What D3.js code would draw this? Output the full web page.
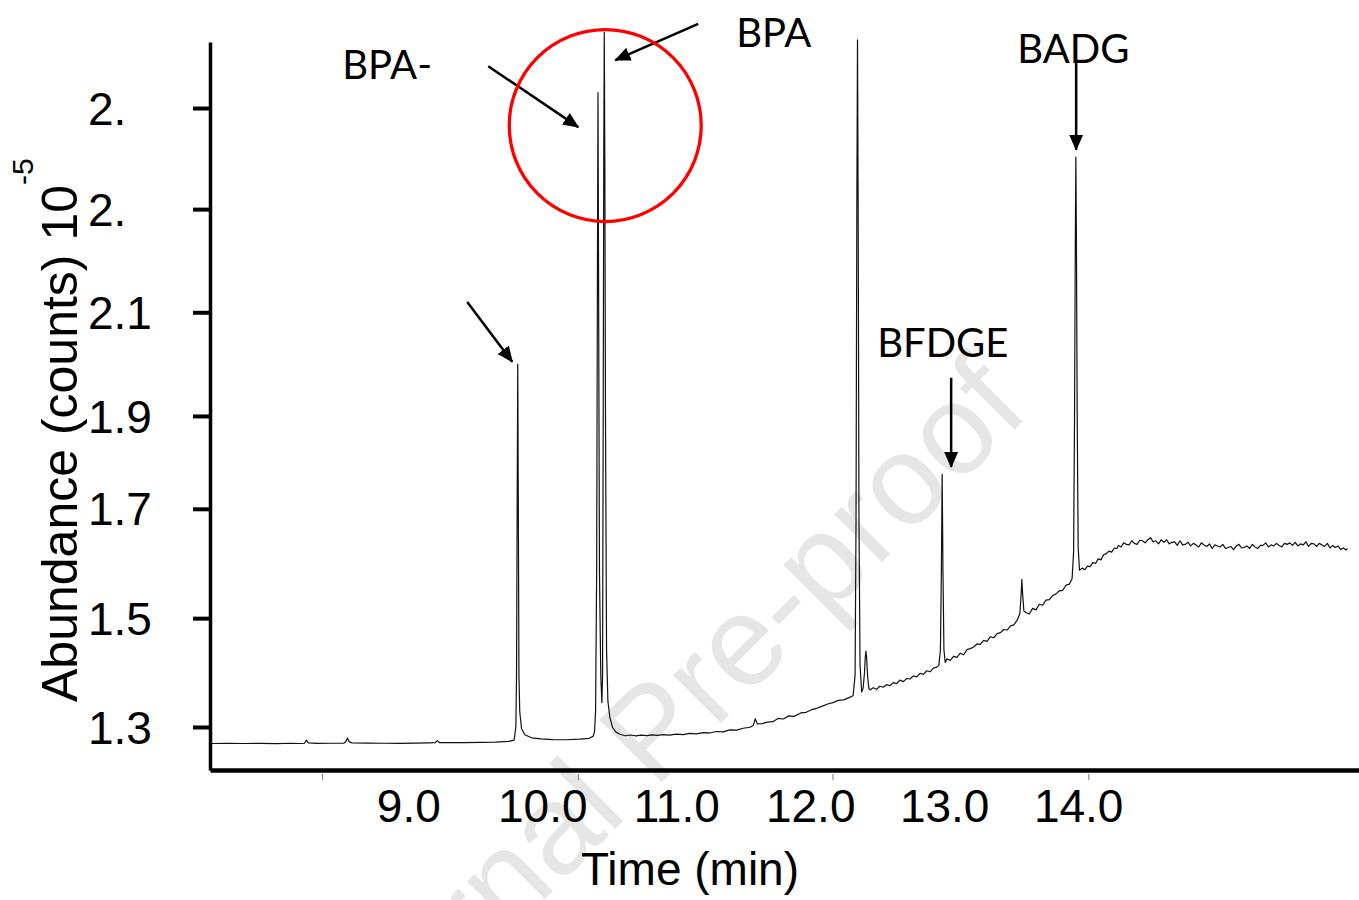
<!DOCTYPE html>
<html>
<head>
<meta charset="utf-8">
<script src="https://cdn.jsdelivr.net/npm/d3@7/dist/d3.min.js"></script>
<style>
  body { margin: 0; background: #fff; }
  svg { display: block; }
</style>
</head>
<body>
<script>
// chromatogram trace: [time (min), abundance]
var trace = [
  [7.53,1.268],[7.65,1.2685],[7.78,1.268],[7.9,1.2682],[8.02,1.2678],[8.12,1.2685],[8.2,1.268],[8.225,1.2685],
  [8.24,1.2745],[8.255,1.269],[8.32,1.2682],[8.42,1.2685],[8.52,1.2688],[8.535,1.272],[8.546,1.2785],[8.56,1.271],
  [8.58,1.2692],[8.7,1.2688],[8.82,1.2685],[8.94,1.2682],[9.05,1.2688],[9.15,1.2692],[9.2,1.2695],[9.216,1.2735],
  [9.232,1.2698],[9.3,1.2695],[9.42,1.2698],[9.54,1.2702],[9.65,1.2705],[9.75,1.272],[9.79,1.2745],
  [9.803,1.30],[9.808,1.40],[9.813,1.75],[9.817,2.003],[9.821,1.75],[9.826,1.40],[9.832,1.33],[9.845,1.297],
  [9.87,1.285],[9.92,1.279],[9.99,1.277],[10.08,1.2755],[10.18,1.2752],[10.28,1.2765],[10.35,1.278],[10.38,1.282],
  [10.39,1.29],[10.398,1.33],[10.406,1.6],[10.412,2.2],[10.416,2.53],[10.42,2.2],[10.427,1.6],[10.437,1.40],
  [10.445,1.347],[10.45,1.40],[10.455,1.9],[10.459,2.4],[10.463,2.647],[10.467,2.4],[10.472,1.9],[10.48,1.45],
  [10.49,1.35],[10.505,1.318],[10.525,1.299],[10.55,1.29],[10.58,1.286],[10.62,1.283],
  [10.66,1.2845],[10.7,1.2828],[10.74,1.2842],[10.78,1.2832],[10.82,1.2848],[10.86,1.2836],[10.9,1.2852],
  [10.95,1.2842],[11.0,1.2862],[11.05,1.2852],[11.1,1.2875],[11.15,1.2866],[11.2,1.2892],[11.25,1.2884],
  [11.3,1.2912],[11.35,1.2905],[11.4,1.2945],[11.45,1.2938],[11.5,1.2975],[11.55,1.2995],[11.575,1.303],
  [11.59,1.316],[11.605,1.306],[11.64,1.3065],[11.68,1.3095],[11.72,1.3102],[11.76,1.3165],[11.8,1.3155],
  [11.84,1.3215],[11.88,1.3205],[11.93,1.3272],[11.97,1.3285],[12.01,1.3335],[12.05,1.3362],[12.09,1.3405],
  [12.13,1.3445],[12.17,1.3472],[12.21,1.3515],[12.25,1.3525],[12.29,1.357],[12.32,1.3605],
  [12.335,1.40],[12.342,1.7],[12.348,2.3],[12.353,2.632],[12.358,2.3],[12.364,1.7],[12.372,1.42],[12.384,1.368],
  [12.395,1.375],[12.405,1.405],[12.411,1.435],[12.416,1.447],[12.421,1.435],[12.428,1.40],[12.438,1.374],
  [12.448,1.372],[12.47,1.376],[12.495,1.373],[12.52,1.379],[12.545,1.377],[12.57,1.382],[12.595,1.380],
  [12.62,1.386],[12.645,1.384],[12.67,1.391],[12.695,1.388],[12.72,1.394],[12.745,1.393],[12.77,1.399],
  [12.795,1.397],[12.82,1.404],[12.845,1.402],[12.87,1.409],[12.895,1.407],[12.92,1.414],[12.945,1.416],
  [12.96,1.4195],
  [12.972,1.45],[12.979,1.6],[12.985,1.79],[12.991,1.6],[12.998,1.45],[13.008,1.425],[13.02,1.432],
  [13.045,1.429],[13.07,1.437],[13.095,1.435],[13.12,1.443],[13.145,1.440],[13.17,1.450],[13.195,1.452],
  [13.22,1.455],[13.245,1.461],[13.27,1.460],[13.295,1.468],[13.32,1.466],[13.345,1.475],[13.37,1.473],
  [13.395,1.481],[13.42,1.483],[13.445,1.489],[13.47,1.488],[13.495,1.496],[13.52,1.498],[13.545,1.507],
  [13.565,1.52],[13.575,1.56],[13.58,1.586],[13.585,1.56],[13.595,1.525],[13.61,1.522],[13.635,1.519],
  [13.66,1.530],[13.685,1.527],[13.71,1.538],[13.735,1.536],[13.76,1.546],[13.785,1.547],[13.81,1.555],
  [13.835,1.558],[13.86,1.564],[13.885,1.565],[13.91,1.575],[13.935,1.577],[13.955,1.588],
  [13.966,1.64],[13.973,1.9],[13.979,2.25],[13.983,2.405],[13.987,2.25],[13.993,1.9],[14.0,1.65],[14.01,1.604],
  [14.03,1.608],[14.05,1.605],[14.07,1.612],[14.09,1.611],[14.11,1.619],[14.13,1.617],[14.15,1.626],
  [14.17,1.624],[14.19,1.634],[14.21,1.636],[14.23,1.641],[14.25,1.639],[14.27,1.647],[14.29,1.646],
  [14.3,1.652],[14.32,1.649],[14.34,1.657],[14.36,1.654],[14.38,1.653],[14.4,1.661],[14.42,1.656],[14.44,1.654],
  [14.46,1.662],[14.48,1.661],[14.5,1.657],[14.52,1.663],[14.54,1.667],[14.56,1.659],[14.58,1.661],[14.6,1.655],
  [14.62,1.663],[14.64,1.658],[14.66,1.663],[14.68,1.655],[14.7,1.658],[14.72,1.659],[14.74,1.652],[14.76,1.661],
  [14.78,1.653],[14.8,1.654],[14.82,1.658],[14.84,1.651],[14.86,1.656],[14.88,1.653],[14.9,1.649],[14.92,1.657],
  [14.94,1.653],[14.96,1.65],[14.98,1.655],[15.0,1.646],[15.02,1.653],[15.04,1.651],[15.06,1.649],[15.08,1.654],
  [15.1,1.646],[15.12,1.648],[15.14,1.65],[15.16,1.644],[15.18,1.651],[15.2,1.654],[15.22,1.647],[15.24,1.648],
  [15.26,1.651],[15.28,1.646],[15.3,1.654],[15.32,1.649],[15.34,1.646],[15.36,1.652],[15.38,1.652],[15.4,1.657],
  [15.42,1.649],[15.44,1.653],[15.46,1.651],[15.48,1.656],[15.5,1.652],[15.52,1.649],[15.54,1.656],[15.56,1.654],
  [15.58,1.657],[15.6,1.652],[15.62,1.658],[15.64,1.651],[15.66,1.655],[15.68,1.653],[15.7,1.659],[15.72,1.65],
  [15.74,1.656],[15.76,1.655],[15.78,1.65],[15.8,1.656],[15.82,1.653],[15.84,1.65],[15.86,1.656],[15.88,1.647],
  [15.9,1.652],[15.92,1.648],[15.94,1.651],[15.96,1.644],[15.98,1.647],[16.0,1.643],[16.01,1.646]
];

var xTickValues = [9, 10, 11, 12, 13, 14];
var xMinorTicks = [8.36, 10.27, 12.17, 14.08];
// tick positions, with its (truncated) labels
var yTickValues = [2.5, 2.304, 2.104, 1.903, 1.723, 1.511, 1.3];
var yTickLabels = ["2.", "2.", "2.1", "1.9", "1.7", "1.5", "1.3"];

// annotations: label position, arrow start -> arrow tip (time, abundance)
var labels = [
  {text: "BPA-",  t: 8.507,  v: 2.556},
  {text: "BPA",   t: 11.448, v: 2.618},
  {text: "BFDGE", t: 12.5,   v: 2.017},
  {text: "BADG",  t: 13.545, v: 2.587}
];
var arrows = [
  {t1: 9.44,   v1: 2.124, t2: 9.776,  v2: 2.008},
  {t1: 9.597,  v1: 2.581, t2: 10.269, v2: 2.463},
  {t1: 11.164, v1: 2.663, t2: 10.545, v2: 2.593},
  {t1: 13.052, v1: 1.977, t2: 13.052, v2: 1.804},
  {t1: 13.985, v1: 2.589, t2: 13.985, v2: 2.419}
];
var highlight = {t: 10.47, v: 2.466};

var w = 1359;
var h = 900;
var arial = "'Liberation Sans', Arial, sans-serif";

var svg = d3.select("body").append("svg")
    .attr("width", w)
    .attr("height", h);

var x = d3.scaleLinear().domain([7.52, 16.1]).range([210, 1359.5]);
var y = d3.scaleLinear().domain([1.2166, 2.628]).range([770, 42]);

svg.append("defs").append("marker")
    .attr("id", "head")
    .attr("markerUnits", "userSpaceOnUse")
    .attr("viewBox", "0 0 16 16")
    .attr("markerWidth", 16)
    .attr("markerHeight", 16)
    .attr("refX", 15)
    .attr("refY", 8)
    .attr("orient", "auto")
    .append("path")
    .attr("d", "M0,1 L16,8 L0,15 Z")
    .attr("fill", "#000");

// watermark
svg.append("text")
    .attr("transform", "translate(682,762) rotate(-45)")
    .attr("text-anchor", "middle")
    .attr("font-family", arial)
    .attr("font-size", 128)
    .attr("fill", "#e6e6e6")
    .text("Journal Pre-proof");

// axes
var yAxis = svg.append("g")
    .attr("transform", "translate(210,0)")
    .call(d3.axisLeft(y)
        .tickValues(yTickValues)
        .tickFormat(function(d, i) { return yTickLabels[i]; })
        .tickSize(17)
        .tickSizeOuter(0));
yAxis.select(".domain").attr("stroke-width", 3.5);
yAxis.selectAll(".tick line").attr("stroke-width", 4);
yAxis.selectAll(".tick text")
    .attr("x", -122)
    .attr("dy", "0.35em")
    .attr("text-anchor", "start")
    .attr("font-family", arial)
    .attr("font-size", 46)
    .attr("fill", "#000");

var xAxis = svg.append("g")
    .attr("transform", "translate(0,770)")
    .call(d3.axisBottom(x)
        .tickValues(xTickValues)
        .tickFormat(d3.format(".1f"))
        .tickSize(0)
        .tickSizeOuter(0));
xAxis.select(".domain").attr("stroke-width", 4.5);
xAxis.selectAll(".tick text")
    .attr("y", 19)
    .attr("dy", "0.71em")
    .attr("font-family", arial)
    .attr("font-size", 46)
    .attr("fill", "#000");

svg.selectAll(".minor")
    .data(xMinorTicks)
    .enter()
    .append("line")
    .attr("class", "minor")
    .attr("x1", function(d) { return x(d); })
    .attr("x2", function(d) { return x(d); })
    .attr("y1", 774)
    .attr("y2", 780)
    .attr("stroke", "#777")
    .attr("stroke-width", 1);

// axis titles
var yTitle = svg.append("text")
    .attr("transform", "translate(77,702) rotate(-90)")
    .attr("font-family", arial)
    .attr("font-size", 50)
    .attr("fill", "#000");
yTitle.append("tspan").text("Abundance (counts) 10");
yTitle.append("tspan")
    .attr("font-size", 30)
    .attr("dy", -44)
    .text("-5");

svg.append("text")
    .attr("x", 690)
    .attr("y", 885)
    .attr("text-anchor", "middle")
    .attr("font-family", arial)
    .attr("font-size", 46)
    .attr("fill", "#000")
    .text("Time (min)");

// trace
var line = d3.line()
    .x(function(d) { return x(d[0]); })
    .y(function(d) { return y(d[1]); });

svg.append("path")
    .datum(trace)
    .attr("d", line)
    .attr("fill", "none")
    .attr("stroke", "#111")
    .attr("stroke-width", 1.2)
    .attr("stroke-linejoin", "round");

// annotations
svg.selectAll(".arrow")
    .data(arrows)
    .enter()
    .append("line")
    .attr("class", "arrow")
    .attr("x1", function(d) { return x(d.t1); })
    .attr("y1", function(d) { return y(d.v1); })
    .attr("x2", function(d) { return x(d.t2); })
    .attr("y2", function(d) { return y(d.v2); })
    .attr("stroke", "#000")
    .attr("stroke-width", 2.5)
    .attr("marker-end", "url(#head)");

svg.selectAll(".label")
    .data(labels)
    .enter()
    .append("text")
    .attr("class", "label")
    .attr("x", function(d) { return x(d.t); })
    .attr("y", function(d) { return y(d.v); })
    .attr("font-family", "Lato, 'Open Sans', sans-serif")
    .attr("font-size", 40)
    .attr("fill", "#000")
    .text(function(d) { return d.text; });

svg.append("circle")
    .attr("cx", x(highlight.t))
    .attr("cy", y(highlight.v))
    .attr("r", 96)
    .attr("fill", "none")
    .attr("stroke", "#ff0000")
    .attr("stroke-width", 3.3);
</script>
</body>
</html>
